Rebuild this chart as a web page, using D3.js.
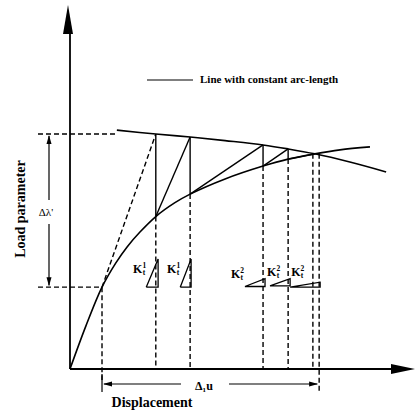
<!DOCTYPE html>
<html>
<head>
<meta charset="utf-8">
<script src="https://cdn.jsdelivr.net/npm/d3@7"></script>
<style>
  body { margin: 0; background: #fff; }
  svg { display: block; }
  text { font-family: "Liberation Serif", "Times New Roman", serif; font-weight: bold; fill: #000; }
</style>
</head>
<body>
<div id="chart"></div>
<script>
// equilibrium path (displacement, load parameter)
var equilibriumPath = [[0, 0], [4.8, 13], [9.7, 24.8], [13.8, 32], [17.3, 37], [21.2, 41.5],
  [26, 46.2], [31.8, 50.4], [36.4, 53], [47, 57.6], [58.5, 61.5], [66.1, 63.6], [74.2, 65.2],
  [81.8, 66.4], [90.9, 67.3]];
// line with constant arc-length
var arcLengthLine = [[14.2, 72.4], [26, 71.2], [36.4, 70.3], [47, 69.2], [58.5, 67.9], [66.1, 66.7],
  [74.2, 65.2], [84.8, 62.7], [95.8, 59.7]];
var startPoint = [9.7, 24.8];
var predictorPoints = [[26, 71.2], [36.4, 70.3], [58.5, 67.9], [66.1, 66.7]];
var correctorPoints = [[26, 46.2], [36.4, 53], [58.5, 61.5], [66.1, 63.6]];
var convergedPoint = [74.2, 65.2];
var convergedX = [73.6, 75.5];
// tangent stiffness triangles: [x of vertical leg, base y, run, rise]
var stiffnessTriangles = [[26.7, 24.8, 3.6, 8.5], [36.7, 24.8, 3.3, 8.5], [59.1, 25, 6.1, 2.4],
  [66.7, 25.2, 6.1, 2.2], [75.8, 24.8, 9.1, 1.5]];
var stiffnessIndex = ["1", "1", "2", "2", "2"];

var w = 417, h = 414;
var svg = d3.select("#chart").append("svg").attr("width", w).attr("height", h);

var x = d3.scaleLinear().domain([0, 100]).range([70, 400]);
var y = d3.scaleLinear().domain([0, 100]).range([369, 39]);

var line = d3.line().x(function(d){ return x(d[0]); }).y(function(d){ return y(d[1]); });
var smooth = d3.line().curve(d3.curveCatmullRom.alpha(0.5))
  .x(function(d){ return x(d[0]); }).y(function(d){ return y(d[1]); });

var dash = "5,3";
function seg(x1, y1, x2, y2, dashed, sw){
  svg.append("line")
    .attr("x1", x1).attr("y1", y1).attr("x2", x2).attr("y2", y2)
    .attr("stroke", "#000").attr("stroke-width", sw || 1.4)
    .attr("stroke-dasharray", dashed ? dash : null);
}

// axes
seg(x(0), y(0), x(0), 30, false, 1.8);
seg(x(0), y(0), 394, y(0), false, 1.8);
svg.append("path").attr("d", "M68,5 L63,34 L73,34 Z").attr("fill", "#000"); // y arrow
svg.append("path").attr("d", "M415,369 L391,364 L391,374 Z").attr("fill", "#000"); // x arrow

// dashed reference lines
seg(38, y(predictorPoints[0][1]), x(14.2), y(predictorPoints[0][1]), true);
seg(38, y(startPoint[1]), x(startPoint[0]), y(startPoint[1]), true);
seg(x(startPoint[0]), y(startPoint[1]), x(startPoint[0]), 380, true);
// first predictor (tangent), dashed
seg(x(startPoint[0]), y(startPoint[1]), x(predictorPoints[0][0]), y(predictorPoints[0][1]), true);

// equilibrium path and arc-length line
svg.append("path").datum(equilibriumPath).attr("d", smooth)
  .attr("fill", "none").attr("stroke", "#000").attr("stroke-width", 1.6);
svg.append("path").datum(arcLengthLine).attr("d", smooth)
  .attr("fill", "none").attr("stroke", "#000").attr("stroke-width", 1.6);

// iterations
predictorPoints.forEach(function(p, i){
  var c = correctorPoints[i];
  seg(x(p[0]), y(p[1]), x(c[0]), y(c[1]), false);
  seg(x(c[0]), y(c[1]), x(c[0]), y(0), true);
  var next = i + 1 < predictorPoints.length ? predictorPoints[i + 1] : convergedPoint;
  seg(x(c[0]), y(c[1]), x(next[0]), y(next[1]), false);
});
convergedX.forEach(function(v, i){
  seg(x(v), y(convergedPoint[1]), x(v), i == 1 ? 392 : y(0), true);
});

// stiffness triangles and labels (K with stacked index and subscript t)
var labelDx = [-25, -24, -34, -23, -29];
var labelY = [273, 273, 278, 276, 276];
stiffnessTriangles.forEach(function(t, i){
  var xr = x(t[0]);
  svg.append("path").attr("d", line([[t[0] - t[2], t[1]], [t[0], t[1]], [t[0], t[1] + t[3]], [t[0] - t[2], t[1]]]))
    .attr("fill", "none").attr("stroke", "#000").attr("stroke-width", 1.3);
  var lbl = svg.append("text").attr("x", xr + labelDx[i]).attr("y", labelY[i]).style("font-size", "12px");
  lbl.append("tspan").text("K");
  lbl.append("tspan").attr("dy", -5).style("font-size", "7.5px").text(stiffnessIndex[i]);
  lbl.append("tspan").attr("dx", -3.5).attr("dy", 6.5).style("font-size", "7.5px").text("t");
});

// Δλ' dimension
var dimX = 49;
seg(dimX, y(predictorPoints[0][1]) + 2, dimX, 200, false, 1.2);
seg(dimX, 224, dimX, y(startPoint[1]) - 2, false, 1.2);
svg.append("path").attr("d", "M" + dimX + "," + (y(predictorPoints[0][1]) + 1) + " l-2.5,9 l5,0 Z").attr("fill", "#000");
svg.append("path").attr("d", "M" + dimX + "," + (y(startPoint[1]) - 1) + " l-2.5,-9 l5,0 Z").attr("fill", "#000");
svg.append("text").attr("x", dimX - 3).attr("y", 216).attr("text-anchor", "middle")
  .style("font-size", "11px").style("font-weight", "normal").text("Δλ'");

// Δ₁u dimension
var dimY = 384;
var uL = x(startPoint[0]), uR = x(convergedX[1]);
seg(uL, 374, uL, 392, false, 1.2);
seg(uL + 2, dimY, 181, dimY, false, 1.2);
seg(229, dimY, uR - 2, dimY, false, 1.2);
svg.append("path").attr("d", "M" + (uL + 1) + "," + dimY + " l9,-2.5 l0,5 Z").attr("fill", "#000");
svg.append("path").attr("d", "M" + (uR - 1) + "," + dimY + " l-9,-2.5 l0,5 Z").attr("fill", "#000");
svg.append("text").attr("x", 204).attr("y", 390).attr("text-anchor", "middle")
  .style("font-size", "12px").text("Δ₁u");

// axis titles
svg.append("text").attr("x", 152).attr("y", 407).attr("text-anchor", "middle")
  .style("font-size", "14px").text("Displacement");
svg.append("text").attr("transform", "translate(25,209) rotate(-90)").attr("text-anchor", "middle")
  .style("font-size", "14px").text("Load parameter");

// legend
seg(147, 80, 193, 80, false, 1.2);
svg.append("text").attr("x", 200).attr("y", 83).style("font-size", "11px").text("Line with constant arc-length");
</script>
</body>
</html>
